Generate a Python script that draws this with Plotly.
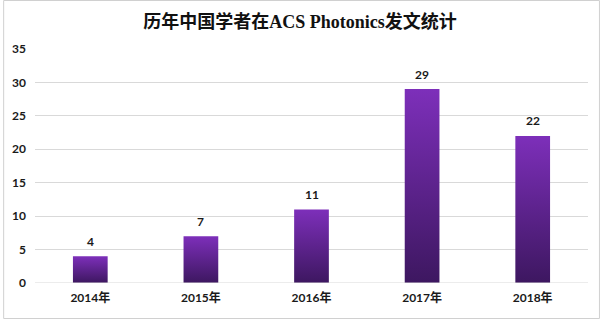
import plotly.graph_objects as go

years = ["2014年", "2015年", "2016年", "2017年", "2018年"]
counts = [4, 7, 11, 29, 22]
y_ticks = [0, 5, 10, 15, 20, 25, 30, 35]

W, H = 600, 319
L, R, T, B = 32, 12, 49, 36
pw, ph = W - L - R, H - T - B

dark = "#3d1760"
light = "#7d2fba"
half = 0.157

fig = go.Figure()
for i, v in enumerate(counts):
    fig.add_trace(go.Scatter(
        x=[i - half, i + half, i + half, i - half, i - half],
        y=[0, 0, v, v, 0],
        mode="lines", fill="toself",
        line=dict(width=0, color=light),
        fillgradient=dict(type="vertical", colorscale=[[0, dark], [1, light]]),
        hoverinfo="skip", showlegend=False,
    ))
    fig.add_annotation(x=i, y=v, text=f"<b>{v}</b>", showarrow=False, yshift=15,
                       font=dict(size=12, color="#1a1a1a", family="Lato, Noto Sans CJK SC"))

fig.update_layout(
    width=W, height=H,
    margin=dict(l=L, r=R, t=T, b=B),
    paper_bgcolor="white", plot_bgcolor="white",
    title=dict(text="<b>历年中国学者在ACS Photonics发文统计</b>", x=0.5, xanchor="center",
               y=1 - 22 / H, yanchor="middle",
               font=dict(size=18, color="#111", family="Liberation Serif, Noto Sans CJK SC")),
    xaxis=dict(range=[-0.5, 4.5], tickmode="array", tickvals=list(range(len(years))),
               ticktext=[f"<b>{y}</b>" for y in years], showgrid=False, zeroline=False,
               showline=False, ticks="", ticklabelstandoff=6,
               tickfont=dict(size=12, color="#1a1a1a", family="Lato, Noto Sans CJK SC")),
    yaxis=dict(range=[0, 35], tickmode="array", tickvals=y_ticks,
               ticktext=[f"<b>{t}</b>" for t in y_ticks],
               showgrid=True, gridcolor="#d9d9d9", gridwidth=1, zeroline=False,
               showline=False, ticks="", ticklabelstandoff=8,
               tickfont=dict(size=12, color="#1a1a1a", family="Lato, Noto Sans CJK SC")),
)
fig.add_hline(y=0, line=dict(color="#d9d9d9", width=1))
fig.add_shape(type="rect", xref="paper", yref="paper",
              x0=(0.5 - L) / pw, x1=1 + (R - 0.5) / pw,
              y0=-(B - 0.5) / ph, y1=1 + (T - 0.5) / ph,
              line=dict(color="#d0d0d0", width=1), layer="below")

fig.write_html("out.html")
